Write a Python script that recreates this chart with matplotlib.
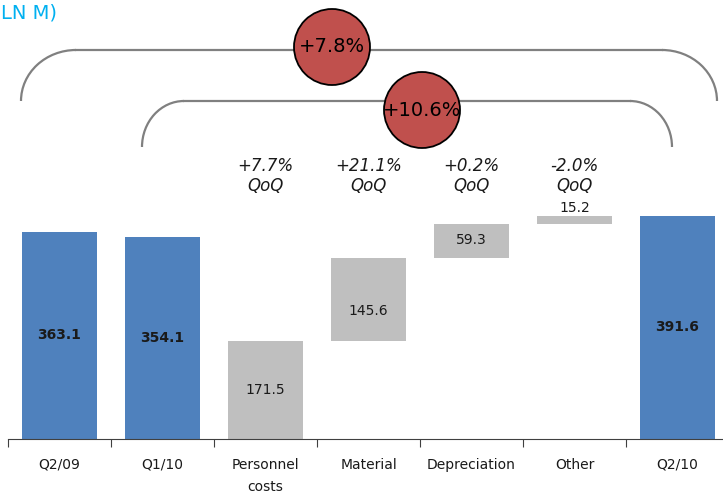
import matplotlib.pyplot as plt
import numpy as np
from matplotlib.patches import Circle, Arc

# ------------------------------------------------------------
# Data
# ------------------------------------------------------------

categories = ["Q2/09", "Q1/10", "Personnel\ncosts", "Material",
              "Depreciation", "Other", "Q2/10"]
values = [363.1, 354.1, 171.5, 145.6, 59.3, 15.2, 391.6]
is_total = [True, True, False, False, False, False, True]
qoq_labels = ["", "", "+7.7%\nQoQ", "+21.1%\nQoQ", "+0.2%\nQoQ", "-2.0%\nQoQ", ""]
growth_outer = "+7.8%"
growth_inner = "+10.6%"

BLUE = "#4F81BD"
GREY = "#BFBFBF"
RED = "#C0504D"
CYAN = "#00B0F0"

# waterfall bottoms: cost items stack on top of each other
bottoms = []
running = 0.0
for v, tot in zip(values, is_total):
    if tot:
        bottoms.append(0.0)
    else:
        bottoms.append(running)
        running += v

# ------------------------------------------------------------
# Figure
# ------------------------------------------------------------

W, H = 723, 493
fig = plt.figure(figsize=(W / 100, H / 100), dpi=100)

ax = fig.add_axes([8 / W, (H - 439) / H, 721 / W, 439 / H])
x = np.arange(len(categories))
colors = [BLUE if t else GREY for t in is_total]
ax.bar(x, values, bottom=bottoms, width=0.72, color=colors, zorder=2)

ax.set_xlim(-0.5, len(categories) - 0.5)
ax.set_ylim(0, 770)

# value labels
label_frac = [0.5, 0.5, 0.5, 0.37, 0.55, None, 0.5]
for i, (v, b, t) in enumerate(zip(values, bottoms, is_total)):
    if label_frac[i] is None:
        ax.text(i, b + v + 2, f"{v:.1f}", ha="center", va="bottom",
                fontsize=10, color="#1a1a1a")
    else:
        ax.text(i, b + v * label_frac[i], f"{v:.1f}", ha="center", va="center",
                fontsize=10, color="#1a1a1a",
                fontweight="bold" if t else "normal")

# QoQ annotations
for i, q in enumerate(qoq_labels):
    if q:
        ax.text(i, 462, q, ha="center", va="center", fontsize=12,
                style="italic", color="#1a1a1a", linespacing=1.15)

# axis styling
for s in ["top", "right", "left"]:
    ax.spines[s].set_visible(False)
ax.spines["bottom"].set_color("#404040")
ax.set_yticks([])
ax.set_xticks(np.arange(-0.5, len(categories), 1.0), minor=False)
ax.set_xticklabels([])
ax.tick_params(axis="x", length=6, color="#404040", direction="out")
for i, c in enumerate(categories):
    ax.text(i, -33, c, ha="center", va="top", fontsize=10, color="#1a1a1a",
            linespacing=1.7)

# ------------------------------------------------------------
# Overlay in pixel coordinates for brackets and growth circles
# ------------------------------------------------------------

ov = fig.add_axes([0, 0, 1, 1], facecolor="none")
ov.set_xlim(0, W)
ov.set_ylim(H, 0)
ov.axis("off")


def bracket(x0, x1, y_top, y_bot, r):
    lw, col = 1.6, "#808080"
    ov.plot([x0 + r, x1 - r], [y_top, y_top], color=col, lw=lw)
    ov.add_patch(Arc((x0 + r, y_bot), 2 * r, 2 * (y_bot - y_top),
                     theta1=180, theta2=270, color=col, lw=lw))
    ov.add_patch(Arc((x1 - r, y_bot), 2 * r, 2 * (y_bot - y_top),
                     theta1=270, theta2=360, color=col, lw=lw))


bracket(21, 717, 50, 101, 55)
bracket(142, 672, 101, 147, 42)


def bubble(cx, cy, text):
    ov.add_patch(Circle((cx, cy), 38, facecolor=RED, edgecolor="black",
                        lw=1.3, zorder=5))
    ov.text(cx, cy, text, ha="center", va="center", fontsize=14,
            color="black", zorder=6)


bubble(332, 47, growth_outer)
bubble(422, 110, growth_inner)

fig.text(1 / W, 1 - 13 / H, "LN M)", ha="left", va="center",
         fontsize=14, color=CYAN)

fig.savefig("out.png", dpi=100)
